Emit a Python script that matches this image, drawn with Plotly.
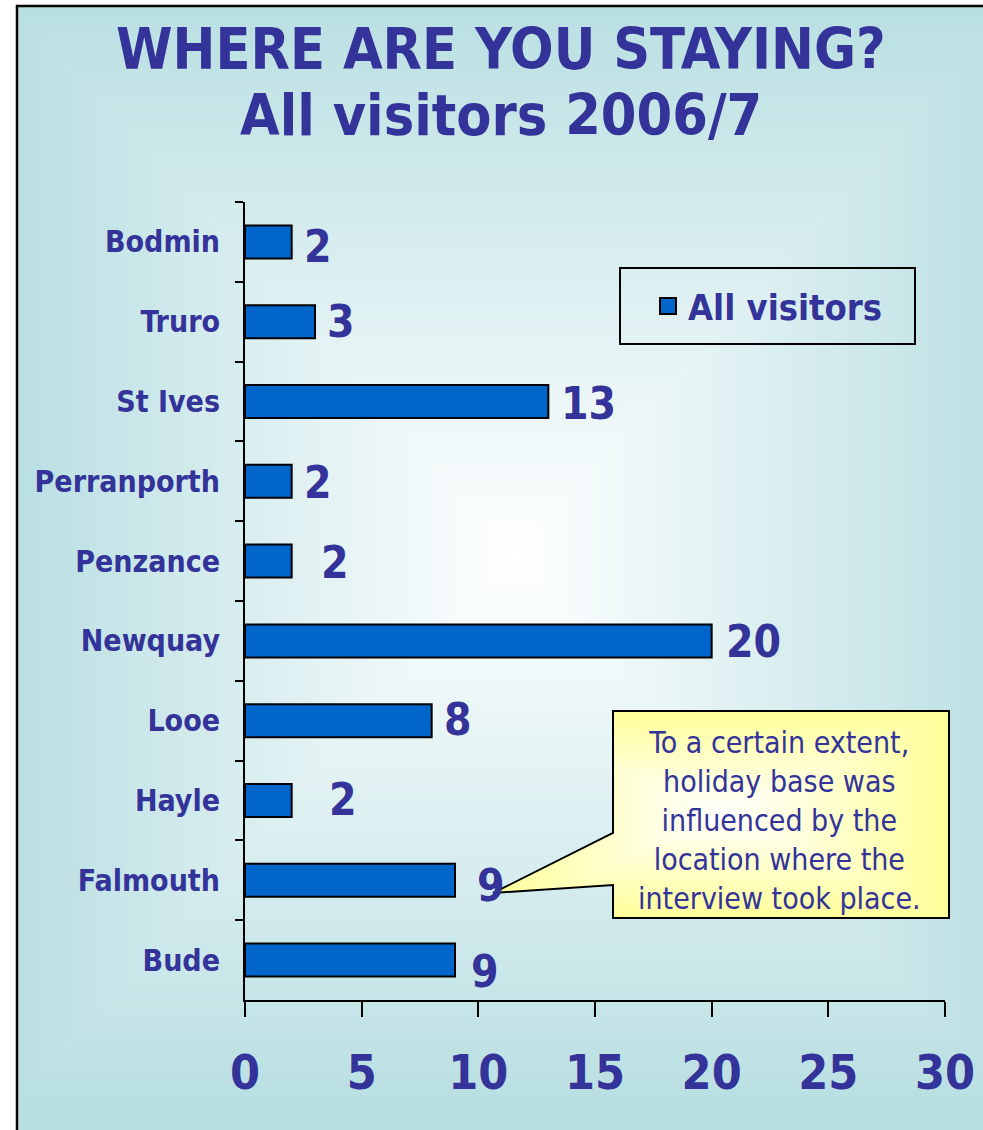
import base64
import struct
import zlib

import numpy as np
import plotly.graph_objects as go

# ---- data -------------------------------------------------------------
towns = ["Bodmin", "Truro", "St Ives", "Perranporth", "Penzance",
         "Newquay", "Looe", "Hayle", "Falmouth", "Bude"]
visitors = [2, 3, 13, 2, 2, 20, 8, 2, 9, 9]
x_ticks = [0, 5, 10, 15, 20, 25, 30]
# nudges (px) for the value labels: rightwards and downwards
label_shift = [10, 10, 11, 10, 27, 12, 10, 35, 20, 14]
label_drop = [6, 1, 3, 2, 2, 2, 0, 0, 6, 12]

series_name = "All visitors"
title_lines = ["WHERE ARE YOU STAYING?", "All visitors 2006/7"]
note_text = ("To a certain extent,<br>holiday base was<br>influenced by the"
             "<br>location where the<br>interview took place.")

W, H = 983, 1130
NAVY = "#333399"
BAR = "#0066CC"
FONT = "DejaVu Sans Condensed, DejaVu Sans"


def px(x):
    return x / W


def py(y):
    return 1 - y / H


def png_uri(pixels):
    """Encode an HxWx3 or HxWx4 uint8 array as a PNG data URI."""
    h, w, c = pixels.shape
    raw = b"".join(b"\x00" + pixels[i].tobytes() for i in range(h))

    def chunk(tag, data):
        body = tag + data
        return (struct.pack(">I", len(data)) + body +
                struct.pack(">I", zlib.crc32(body) & 0xFFFFFFFF))

    ctype = 6 if c == 4 else 2
    png = (b"\x89PNG\r\n\x1a\n" +
           chunk(b"IHDR", struct.pack(">IIBBBBB", w, h, 8, ctype, 0, 0, 0)) +
           chunk(b"IDAT", zlib.compress(raw, 9)) +
           chunk(b"IEND", b""))
    return "data:image/png;base64," + base64.b64encode(png).decode()


# ---- panel background: rectangular "from centre" gradient ---------------
bx0, by0, bx1, by1 = 17, 6, 983, 1130
scale = 2
gx = np.arange(bx0, bx1, scale) + scale / 2
gy = np.arange(by0, by1, scale) + scale / 2
XX, YY = np.meshgrid(gx, gy)
t = np.clip(np.maximum(np.abs(XX - 515) / 500, np.abs(YY - 555) / 550), 0, 1)
inner = np.array([255, 255, 255], float)
outer = np.array([185, 223, 226], float)
bg = (inner * (1 - t[..., None]) + outer * t[..., None]).round().astype(np.uint8)
bg_uri = png_uri(bg)

# ---- callout body: white-to-yellow gradient, masked to the balloon -------
cx0, cy0, cx1, cy1 = 493, 711, 949, 918
tip = (493, 893)
base_top, base_bot = (613, 833), (613, 885)
cxs = np.arange(cx0, cx1) + 0.5
cys = np.arange(cy0, cy1) + 0.5
CX, CY = np.meshgrid(cxs, cys)
tc = np.clip(np.maximum(np.abs(CX - 721) / 228, np.abs(CY - 814) / 103.5), 0, 1)
yel = np.array([255, 255, 153], float)
rgb = inner * (1 - tc[..., None]) + yel * tc[..., None]
in_rect = (CX >= 613) & (CX <= 949) & (CY >= 711) & (CY <= 918)


def side(ax, ay, bx, by, X, Y):
    return (bx - ax) * (Y - ay) - (by - ay) * (X - ax)


s1 = side(*tip, *base_top, CX, CY)
s2 = side(*base_top, *base_bot, CX, CY)
s3 = side(*base_bot, *tip, CX, CY)
in_tri = ((s1 >= 0) & (s2 >= 0) & (s3 >= 0)) | ((s1 <= 0) & (s2 <= 0) & (s3 <= 0))
alpha = np.where(in_rect | in_tri, 255, 0)
callout = np.dstack([rgb.round(), alpha]).astype(np.uint8)
callout_uri = png_uri(callout)

# ---- figure -------------------------------------------------------------
fig = go.Figure()
fig.add_trace(go.Bar(
    x=visitors, y=towns, orientation="h", name=series_name,
    marker=dict(color=BAR, line=dict(color="black", width=2)),
    showlegend=False,
))
# legend key for the series (square swatch in the bar colour)
fig.add_trace(go.Scatter(
    x=[None], y=[None], mode="markers", name=series_name,
    marker=dict(symbol="square", size=22, color=BAR,
                line=dict(color="black", width=2)),
    showlegend=True,
))

# value labels next to each bar
for town, val, dx, dy in zip(towns, visitors, label_shift, label_drop):
    fig.add_annotation(
        x=val, y=town, xref="x", yref="y", text=str(val),
        showarrow=False, xanchor="left", yanchor="middle",
        xshift=dx, yshift=1 - dy,
        font=dict(family=FONT, size=44, color=NAVY, weight="bold"),
    )

# two-line heading
for line, yc in zip(title_lines, [49, 115]):
    fig.add_annotation(
        x=px(501), y=py(yc), xref="paper", yref="paper", text=line,
        showarrow=False, xanchor="center", yanchor="middle",
        font=dict(family=FONT, size=57, color=NAVY, weight="bold"),
    )

# callout text
fig.add_annotation(
    x=px(779), y=py(820), xref="paper", yref="paper", text=note_text,
    showarrow=False, xanchor="center", yanchor="middle", align="center",
    font=dict(family=FONT, size=30, color=NAVY),
)

balloon = [(613, 711), (949, 711), (949, 918), (613, 918), base_bot, tip, base_top]
path = "M " + " L ".join(f"{px(a):.5f},{py(b):.5f}" for a, b in balloon) + " Z"

fig.update_layout(
    width=W, height=H,
    margin=dict(l=0, r=0, t=0, b=0, autoexpand=False),
    paper_bgcolor="white",
    plot_bgcolor="rgba(0,0,0,0)",
    bargap=0.586,
    font=dict(family=FONT, color=NAVY),
    xaxis=dict(
        domain=[px(245), px(945)], range=[0, 30], automargin=False,
        tickvals=x_ticks, ticktext=[str(v) for v in x_ticks],
        showgrid=False, zeroline=False,
        showline=True, linecolor="black", linewidth=2,
        ticks="outside", ticklen=15, tickwidth=2, tickcolor="black",
        ticklabelstandoff=14,
        tickfont=dict(family=FONT, size=48, color=NAVY, weight="bold"),
    ),
    yaxis=dict(
        domain=[py(1000), py(202)], automargin=False,
        type="category", categoryorder="array", categoryarray=towns,
        range=[len(towns) - 0.5, -0.5],
        showgrid=False, zeroline=False,
        showline=True, linecolor="black", linewidth=2,
        ticks="outside", ticklen=8, tickwidth=2, tickcolor="black",
        tickson="boundaries", ticklabelstandoff=17,
        tickfont=dict(family=FONT, size=30, color=NAVY, weight="bold"),
    ),
    legend=dict(
        x=px(648), y=py(306), xanchor="left", yanchor="middle",
        bgcolor="rgba(0,0,0,0)", borderwidth=0,
        font=dict(family=FONT, size=36, color=NAVY, weight="bold"),
    ),
    images=[
        dict(source=bg_uri, xref="paper", yref="paper",
             x=px(bx0), y=py(by0), sizex=px(bx1) - px(bx0),
             sizey=py(by0) - py(by1), xanchor="left", yanchor="top",
             sizing="stretch", layer="below"),
        dict(source=callout_uri, xref="paper", yref="paper",
             x=px(cx0), y=py(cy0), sizex=px(cx1) - px(cx0),
             sizey=py(cy0) - py(cy1), xanchor="left", yanchor="top",
             sizing="stretch", layer="above"),
    ],
    shapes=[
        # panel frame
        dict(type="rect", xref="paper", yref="paper",
             x0=px(17), x1=1.05, y0=-0.05, y1=py(6),
             line=dict(color="black", width=2.5), layer="above"),
        # legend frame
        dict(type="rect", xref="paper", yref="paper",
             x0=px(620), x1=px(915), y0=py(344), y1=py(268),
             line=dict(color="black", width=2), layer="above"),
        # callout outline
        dict(type="path", xref="paper", yref="paper", path=path,
             line=dict(color="black", width=2), layer="above"),
    ],
)

fig.write_html("out.html")
